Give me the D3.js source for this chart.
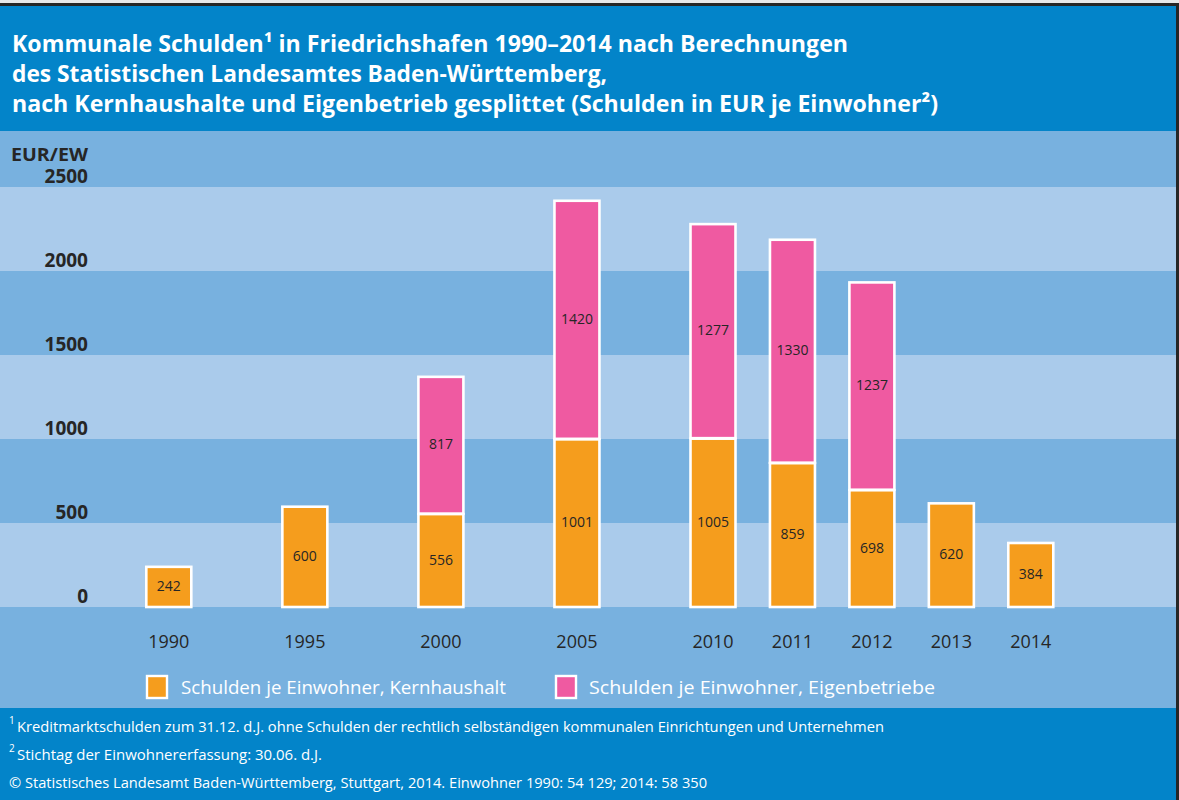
<!DOCTYPE html>
<html><head><meta charset="utf-8">
<script src="https://cdn.jsdelivr.net/npm/d3@7"></script>
<style>html,body{margin:0;padding:0;background:#fff;}svg{display:block;}</style>
</head><body>
<script>
const years = [1990, 1995, 2000, 2005, 2010, 2011, 2012, 2013, 2014];
const kernhaushalt = [242, 600, 556, 1001, 1005, 859, 698, 620, 384];
const eigenbetriebe = [0, 0, 817, 1420, 1277, 1330, 1237, 0, 0];
const yTicks = [0, 500, 1000, 1500, 2000, 2500];
const seriesNames = ["Schulden je Einwohner, Kernhaushalt", "Schulden je Einwohner, Eigenbetriebe"];
const titleLines = [
  "Kommunale Schulden¹ in Friedrichshafen 1990–2014 nach Berechnungen",
  "des Statistischen Landesamtes Baden-Württemberg,",
  "nach Kernhaushalte und Eigenbetrieb gesplittet (Schulden in EUR je Einwohner²)"
];
const footnotes = [
  {sup: "1", text: "Kreditmarktschulden zum 31.12. d.J. ohne Schulden der rechtlich selbständigen kommunalen Einrichtungen und Unternehmen"},
  {sup: "2", text: "Stichtag der Einwohnererfassung: 30.06. d.J."},
  {sup: "", text: "© Statistisches Landesamt Baden-Württemberg, Stuttgart, 2014. Einwohner 1990: 54 129; 2014: 58 350"}
];

const W = 1179, H = 800;
const C = {blue: "#0384c9", dark: "#78b1df", light: "#aacbeb", orange: "#f59d1d", pink: "#ef5aa1", text: "#262626"};
const font = "'Liberation Sans Narrow', 'Open Sans', sans-serif";
const font2 = "'Open Sans', 'Lato', sans-serif";

const svg = d3.select("body").append("svg").attr("width", W).attr("height", H);

// frame
svg.append("rect").attr("x",0).attr("y",0).attr("width",W).attr("height",H).attr("fill","#e8e8e8");
svg.append("rect").attr("x",0).attr("y",3).attr("width",W).attr("height",H-3).attr("fill","#262626");
svg.append("rect").attr("x",0).attr("y",6).attr("width",W-3).attr("height",H-6).attr("fill",C.blue);

const y = d3.scaleLinear().domain([0, 2500]).range([607, 187]);
const x = d3.scaleLinear().domain([1990, 2010, 2014]).range([168.8, 713, 1030.8]);
const barW = 45;

// chart area background
const chartTop = 131, chartBottom = 708;
svg.append("rect").attr("x",0).attr("y",chartTop).attr("width",W-3).attr("height",chartBottom-chartTop).attr("fill",C.dark);
const bands = d3.pairs(yTicks).map((p, i) => ({lo: p[0], hi: p[1], i}));
svg.selectAll("rect.band").data(bands).join("rect").attr("class","band")
  .attr("x",0).attr("width",W-3)
  .attr("y", d => y(d.hi)).attr("height", d => y(d.lo) - y(d.hi))
  .attr("fill", d => (d.i % 2 === 0) ? C.light : C.dark);

// title
svg.append("g").selectAll("text").data(titleLines).join("text")
  .attr("x", 12).attr("y", (d,i) => 52 + i*30)
  .attr("fill","#fff").attr("font-family", font).attr("font-weight","bold").attr("font-size", 23)
  .attr("textLength", (d,i) => [836, 595, 926][i]).attr("lengthAdjust","spacingAndGlyphs")
  .text(d => d);

// y axis labels
svg.append("text").attr("x", 88).attr("y", 161).attr("text-anchor","end")
  .attr("font-family", font2).attr("font-weight","bold").attr("font-size",17).attr("fill",C.text)
  .attr("textLength", 77).attr("lengthAdjust","spacingAndGlyphs")
  .text("EUR/EW");
svg.append("g").selectAll("text").data(yTicks).join("text")
  .attr("x", 88).attr("y", d => y(d) - 4).attr("text-anchor","end")
  .attr("font-family", font2).attr("font-weight","bold").attr("font-size",19).attr("fill",C.text)
  .text(d => d);

// bars
const data = years.map((yr, i) => ({yr, k: kernhaushalt[i], e: eigenbetriebe[i]}));
const segs = [];
data.forEach(d => {
  segs.push({yr: d.yr, y0: 0, y1: d.k, v: d.k, c: C.orange});
  if (d.e > 0) segs.push({yr: d.yr, y0: d.k, y1: d.k + d.e, v: d.e, c: C.pink});
});
const gb = svg.append("g");
gb.selectAll("rect").data(segs).join("rect")
  .attr("x", d => x(d.yr) - barW/2).attr("width", barW)
  .attr("y", d => y(d.y1) + 0.5).attr("height", d => y(d.y0) - y(d.y1) - 0.5)
  .attr("fill", d => d.c).attr("stroke","#fff").attr("stroke-width",2.6);
gb.selectAll("text").data(segs).join("text")
  .attr("x", d => x(d.yr)).attr("y", d => (y(d.y0) + y(d.y1))/2 - 1)
  .attr("text-anchor","middle").attr("dominant-baseline","central")
  .attr("font-family", font2).attr("font-size",14).attr("fill",C.text)
  .text(d => d.v);

// x labels
svg.append("g").selectAll("text").data(years).join("text")
  .attr("x", d => x(d)).attr("y", 648).attr("text-anchor","middle")
  .attr("font-family", font2).attr("font-size",18).attr("fill",C.text)
  .text(d => d);

// legend
const legend = [{name: seriesNames[0], c: C.orange, x: 147, tx: 181, w: 325}, {name: seriesNames[1], c: C.pink, x: 556, tx: 589, w: 346}];
const lg = svg.append("g").selectAll("g").data(legend).join("g");
lg.append("rect").attr("x", d => d.x).attr("y", 676).attr("width", 20).attr("height", 22)
  .attr("fill", d => d.c).attr("stroke","#fff").attr("stroke-width",2.4);
lg.append("text").attr("x", d => d.tx).attr("y", 694)
  .attr("font-family", font).attr("font-size",19).attr("fill","#fff")
  .attr("textLength", d => d.w).attr("lengthAdjust","spacingAndGlyphs")
  .text(d => d.name);

// footnotes
const fn = svg.append("g").selectAll("g").data(footnotes).join("g");
fn.append("text").attr("x", 9).attr("y", (d,i) => 724 + i*28)
  .attr("font-family", font2).attr("font-size",10).attr("fill","#fff").text(d => d.sup);
fn.append("text").attr("x", (d) => d.sup ? 17 : 9).attr("y", (d,i) => 732 + i*28)
  .attr("font-family", font).attr("font-size",15).attr("fill","#fff")
  .attr("textLength", (d,i) => [867, 305, 698][i]).attr("lengthAdjust","spacingAndGlyphs")
  .text(d => d.text);
</script>
</body></html>
